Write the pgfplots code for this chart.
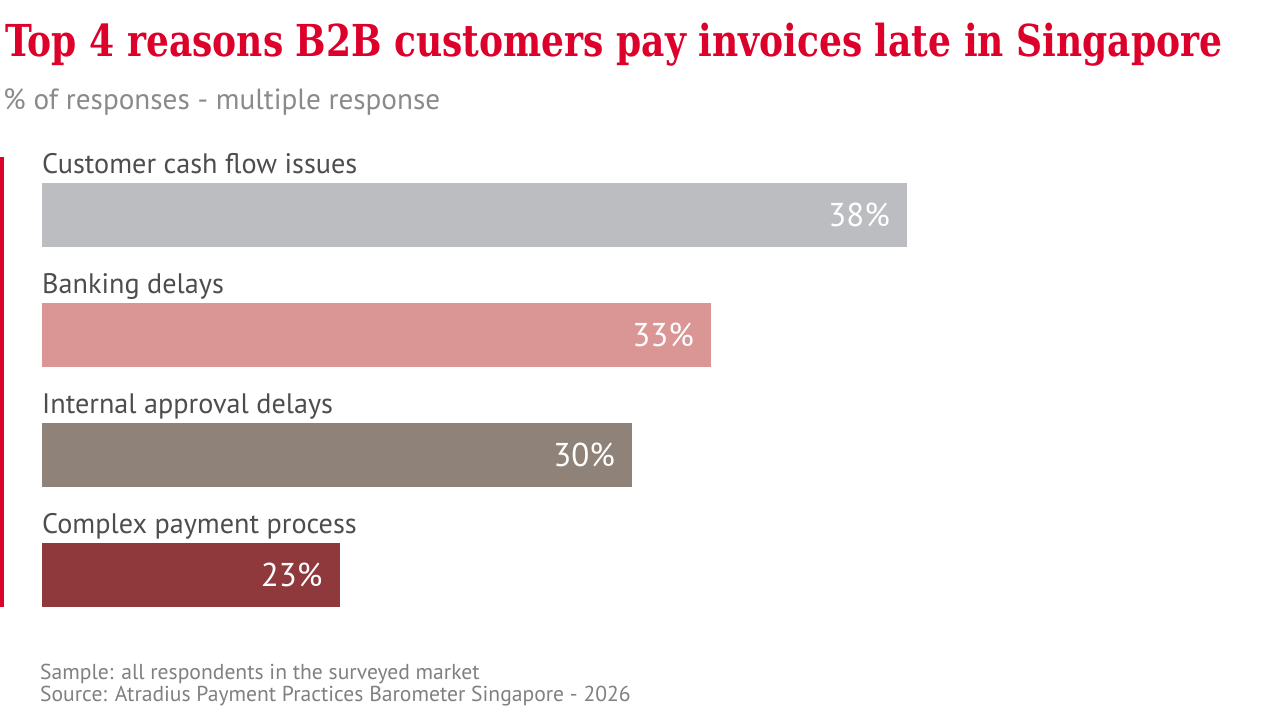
\documentclass[border=0pt]{standalone}
\usepackage{fontspec}
\setmainfont{PT Sans}
\newfontfamily\titlefont{DejaVu Serif}
\usepackage{graphicx}
\usepackage{pgfplots}
\pgfplotsset{compat=1.18}
\definecolor{titlered}{RGB}{220,0,43}
\definecolor{labelgray}{RGB}{77,77,77}
\definecolor{subgray}{RGB}{138,138,138}
\definecolor{footgray}{RGB}{128,128,128}
\definecolor{barA}{RGB}{188,189,193}
\definecolor{barB}{RGB}{217,150,148}
\definecolor{barC}{RGB}{143,131,121}
\definecolor{barD}{RGB}{143,57,61}
\begin{document}
\begin{tikzpicture}[x=1pt,y=1pt]
\path[use as bounding box] (0,0) rectangle (1280,720);
% title and subtitle
\node[anchor=base west, inner sep=0pt, text=titlered] at (5,663)
  {\resizebox{1217pt}{\height}{\titlefont\bfseries\fontsize{44}{50}\selectfont Top 4 reasons B2B customers pay invoices late in Singapore}};
\node[anchor=base west, inner sep=0pt, text=subgray] at (3,610)
  {\fontsize{29.2}{34}\selectfont \% of responses - multiple response};
% red accent line
\fill[titlered] (0,113) rectangle (4,563);
\begin{axis}[
  at={(42pt,85pt)}, anchor=south west,
  scale only axis, width=865pt, height=480pt,
  xmin=0, xmax=38, ymin=-0.5, ymax=3.5, y dir=reverse,
  axis lines=none, clip=false,
  xbar, bar width=64pt, bar shift=0pt,
  nodes near coords, point meta=explicit symbolic,
  nodes near coords align={anchor=base east},
  every node near coord/.append style={anchor=base east, inner sep=0pt,
     xshift=-17pt, yshift=-11pt, text=white, font=\fontsize{33}{36}\selectfont},
]
\addplot[fill=barA, draw=none] coordinates {(38,0) [38\%]};
\addplot[fill=barB, draw=none] coordinates {(29.39,1) [33\%]};
\addplot[fill=barC, draw=none] coordinates {(25.92,2) [30\%]};
\addplot[fill=barD, draw=none] coordinates {(13.07,3) [23\%]};
\node[anchor=base west, inner sep=0pt, text=labelgray, font=\fontsize{28.2}{32}\selectfont, yshift=42pt] at (axis cs:0,0) {Customer cash flow issues};
\node[anchor=base west, inner sep=0pt, text=labelgray, font=\fontsize{28.2}{32}\selectfont, yshift=42pt] at (axis cs:0,1) {Banking delays};
\node[anchor=base west, inner sep=0pt, text=labelgray, font=\fontsize{28.2}{32}\selectfont, yshift=42pt] at (axis cs:0,2) {Internal approval delays};
\node[anchor=base west, inner sep=0pt, text=labelgray, font=\fontsize{28.2}{32}\selectfont, yshift=42pt] at (axis cs:0,3) {Complex payment process};
\end{axis}
% footer
\node[anchor=base west, inner sep=0pt, text=footgray, font=\fontsize{21.6}{24}\selectfont] at (40,40) {Sample: all respondents in the surveyed market};
\node[anchor=base west, inner sep=0pt, text=footgray, font=\fontsize{21.6}{24}\selectfont] at (40,18) {Source: Atradius Payment Practices Barometer Singapore - 2026};
\end{tikzpicture}
\end{document}
